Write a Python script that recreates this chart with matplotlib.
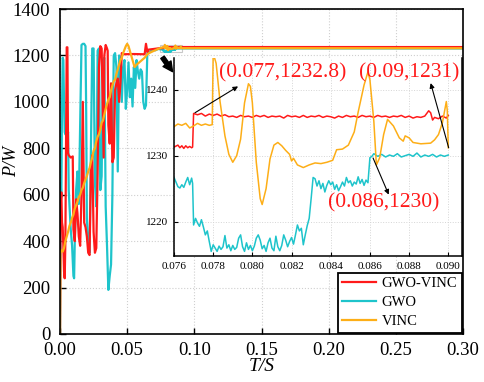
import matplotlib
matplotlib.use('Agg')
import matplotlib.pyplot as plt
import numpy as np
from matplotlib.patches import Rectangle

plt.rcParams['font.family'] = ['Liberation Serif', 'DejaVu Serif']

# --- start-up transient ---
red_t0 = [0.0, 0.0005, 0.001, 0.0015, 0.002, 0.0025, 0.003, 0.0035, 0.004, 0.0045, 0.005, 0.0055,
          0.006, 0.0065, 0.008, 0.0095, 0.010, 0.011, 0.012, 0.013, 0.014, 0.015, 0.016, 0.017,
          0.018, 0.019, 0.020, 0.021, 0.022, 0.023, 0.024, 0.025, 0.026, 0.027, 0.028, 0.029,
          0.030, 0.031, 0.032, 0.0325, 0.033, 0.034, 0.035, 0.0355, 0.036, 0.037, 0.038, 0.039,
          0.040, 0.041, 0.042, 0.043, 0.044, 0.045, 0.046, 0.047, 0.055, 0.063, 0.064, 0.065,
          0.066, 0.070, 0.074]
red_p0 = [0, 560, 610, 480, 460, 380, 270, 240, 400, 820, 1235, 1235,
          780, 770, 760, 765, 450, 400, 580, 520, 420, 380, 600, 1000,
          480, 460, 420, 350, 340, 700, 770, 440, 350, 370, 690, 1150,
          1240, 1230, 900, 760, 1200, 1245, 1230, 1220, 900, 820, 1080, 740,
          760, 1050, 1080, 1100, 1000, 1080, 1210, 1205, 1206, 1205, 1250, 1215,
          1225, 1228, 1231]

cyan_t0 = [0.0, 0.0005, 0.001, 0.0015, 0.002, 0.0025, 0.003, 0.0035, 0.004, 0.005, 0.0055, 0.006,
           0.0065, 0.007, 0.008, 0.009, 0.010, 0.0105, 0.011, 0.012, 0.013, 0.014, 0.015, 0.016,
           0.017, 0.018, 0.019, 0.0195, 0.020, 0.021, 0.022, 0.023, 0.024, 0.025, 0.026, 0.027,
           0.028, 0.029, 0.030, 0.031, 0.032, 0.033, 0.034, 0.035, 0.036, 0.037, 0.038, 0.039,
           0.040, 0.041, 0.042, 0.043, 0.044, 0.045, 0.046, 0.047, 0.048, 0.049, 0.050, 0.051,
           0.052, 0.053, 0.054, 0.055, 0.056, 0.057, 0.058, 0.059, 0.060, 0.061, 0.062, 0.063,
           0.064, 0.0645, 0.065, 0.067, 0.069, 0.071, 0.073, 0.075]
cyan_p0 = [0, 650, 590, 980, 1190, 1180, 1000, 870, 860, 880, 850, 870,
           620, 560, 450, 380, 250, 240, 400, 620, 700, 560, 900, 1245,
           1250, 1250, 1240, 950, 500, 380, 350, 800, 1230, 1230, 650, 550,
           1220, 1230, 620, 680, 1180, 1190, 550, 380, 190, 250, 300, 600,
           1200, 1210, 1150, 700, 1200, 1180, 1000, 1150, 1180, 970, 1050, 1170,
           1020, 1100, 980, 1150, 1060, 1180, 1130, 1100, 1140, 1130, 1000, 970,
           985, 1100, 1210, 1215, 1225, 1222, 1228, 1226]

orange_t0 = [0.0, 0.0003, 0.001, 0.002, 0.003, 0.004, 0.005, 0.006, 0.007, 0.008, 0.009, 0.010,
             0.011, 0.012, 0.013, 0.014, 0.015, 0.016, 0.017, 0.018, 0.019, 0.020, 0.021, 0.022,
             0.023, 0.024, 0.025, 0.026, 0.027, 0.028, 0.029, 0.030, 0.031, 0.032, 0.033, 0.034,
             0.035, 0.036, 0.037, 0.038, 0.039, 0.040, 0.041, 0.042, 0.043, 0.044, 0.045, 0.046,
             0.047, 0.048, 0.049, 0.050, 0.051, 0.052, 0.054, 0.0555, 0.057, 0.059, 0.061, 0.063,
             0.065, 0.067, 0.070, 0.073]
orange_p0 = [0, 350, 360, 355, 370, 400, 420, 440, 465, 480, 500, 515,
             540, 555, 570, 590, 600, 620, 630, 650, 665, 680, 700, 715,
             740, 760, 790, 800, 830, 850, 860, 880, 910, 920, 945, 970,
             990, 1010, 1020, 1050, 1070, 1090, 1095, 1120, 1140, 1160, 1180, 1190,
             1210, 1225, 1240, 1250, 1240, 1220, 1180, 1150, 1160, 1170, 1180, 1190,
             1205, 1212, 1220, 1228]

# --- zoomed window 0.076 - 0.090 ---
red_t1 = [0.0760, 0.0762, 0.0763, 0.0764, 0.0765, 0.0766, 0.0767, 0.0768, 0.0769, 0.07695,
          0.0770, 0.0772, 0.0774, 0.0776, 0.0778, 0.0780, 0.0782, 0.0784, 0.0786, 0.0788,
          0.0790, 0.0792, 0.0794, 0.0796, 0.0798, 0.0800, 0.0802, 0.0804, 0.0806, 0.0808,
          0.0810, 0.0812, 0.0814, 0.0816, 0.0818, 0.0820, 0.0822, 0.0824, 0.0826, 0.0828,
          0.0830, 0.0832, 0.0834, 0.0836, 0.0838, 0.0840, 0.0842, 0.0844, 0.0846, 0.0848,
          0.0850, 0.0852, 0.0854, 0.0856, 0.0858, 0.0860, 0.0862, 0.0864, 0.0866, 0.0868,
          0.0870, 0.0872, 0.0874, 0.0876, 0.0878, 0.0880, 0.0882, 0.0884, 0.0886, 0.0888,
          0.0890, 0.0891, 0.0892, 0.0893, 0.0895, 0.0897, 0.0899, 0.0900]
red_p1 = [1231.3, 1231.6, 1231.2, 1231.5, 1231.1, 1231.5, 1231.2, 1231.4, 1231.2, 1231.3,
          1236.4, 1236.2, 1236.4, 1236.0, 1236.3, 1236.1, 1236.3, 1236.0, 1236.2, 1235.9,
          1236.0, 1235.8, 1236.1, 1235.9, 1236.0, 1235.8, 1236.1, 1235.9, 1236.1, 1235.8,
          1236.0, 1235.9, 1236.0, 1235.7, 1236.1, 1235.9, 1236.0, 1235.8, 1236.1, 1235.8,
          1236.0, 1235.9, 1236.1, 1235.8, 1236.0, 1235.9, 1235.7, 1236.0, 1235.8, 1236.1,
          1235.9, 1236.0, 1235.8, 1236.1, 1235.9, 1236.0, 1235.8, 1236.1, 1235.9, 1236.0,
          1235.8, 1236.0, 1235.9, 1236.1, 1235.8, 1236.0, 1235.7, 1235.9, 1235.8, 1236.0,
          1236.8, 1236.5, 1235.4, 1235.8, 1235.6, 1236.0, 1235.7, 1236.1]

orange_t1 = [0.0760, 0.0762, 0.0764, 0.0766, 0.0768, 0.0770, 0.0772, 0.0774, 0.0776, 0.0778,
             0.07795, 0.0780, 0.07815, 0.07835, 0.0786, 0.0788, 0.0790, 0.0792, 0.0794, 0.0796,
             0.0798, 0.0799, 0.0800, 0.0802, 0.0804, 0.0805, 0.0807, 0.0809, 0.0811, 0.0813,
             0.0815, 0.0817, 0.0819, 0.0820, 0.0821, 0.0823, 0.0826, 0.0829, 0.0832, 0.0835,
             0.0838, 0.0841, 0.0843, 0.0846, 0.0849, 0.0852, 0.0854, 0.0857, 0.0859, 0.0860,
             0.0862, 0.08633, 0.0865, 0.0867, 0.0869, 0.0872, 0.0875, 0.0877, 0.0878, 0.0880,
             0.0882, 0.0886, 0.0891, 0.0893, 0.0895, 0.0897, 0.0899, 0.08995, 0.0900]
orange_p1 = [1234.4, 1234.8, 1234.6, 1234.9, 1234.2, 1234.5, 1234.9, 1234.6, 1234.8, 1234.6,
             1234.7, 1245.5, 1244.0, 1238.2, 1233.0, 1230.2, 1229.0, 1230.0, 1232.5, 1238.0,
             1240.9, 1240.5, 1238.0, 1229.0, 1223.5, 1222.6, 1225.0, 1229.5, 1231.6, 1232.0,
             1231.5, 1230.8, 1230.2, 1229.2, 1229.6, 1228.6, 1228.2, 1228.6, 1228.9, 1228.8,
             1229.0, 1229.3, 1230.9, 1231.0, 1231.6, 1233.6, 1236.6, 1240.7, 1242.7, 1241.5,
             1235.2, 1228.6, 1229.7, 1233.2, 1235.5, 1234.5, 1232.7, 1232.2, 1233.0, 1232.7,
             1232.0, 1231.8, 1231.9, 1232.4, 1233.2, 1235.0, 1238.2, 1236.8, 1231.2]

cyan_t1 = [0.0760, 0.0761, 0.0762, 0.0763, 0.0764, 0.0765, 0.0766, 0.0767, 0.0768, 0.0769,
           0.07695, 0.0770, 0.0771, 0.0772, 0.0773, 0.0774, 0.0775, 0.0776, 0.0777, 0.0778,
           0.0779, 0.0780, 0.0781, 0.0782, 0.0783, 0.0784, 0.0785, 0.0786, 0.0787, 0.0788,
           0.0789, 0.0790, 0.0791, 0.0792, 0.0793, 0.0794, 0.0795, 0.0796, 0.0797, 0.0798,
           0.0799, 0.0800, 0.0801, 0.0802, 0.0803, 0.0804, 0.0805, 0.0806, 0.0807, 0.0808,
           0.0809, 0.0810, 0.0811, 0.0812, 0.0813, 0.0814, 0.0815, 0.0816, 0.0817, 0.0818,
           0.0819, 0.0820, 0.0821, 0.0822, 0.0823, 0.0824, 0.0825, 0.0826, 0.0827, 0.0828,
           0.0829, 0.0830, 0.0831, 0.0832, 0.0833, 0.0834, 0.0835, 0.0836, 0.0837, 0.0838,
           0.0839, 0.0840, 0.0841, 0.0842, 0.0843, 0.0844, 0.0845, 0.0846, 0.0847, 0.0848,
           0.0849, 0.0850, 0.0851, 0.0852, 0.0853, 0.0854, 0.0855, 0.0856, 0.0857, 0.0858,
           0.0859, 0.0860, 0.0861, 0.0862, 0.0864, 0.0866, 0.0868, 0.0870, 0.0872, 0.0874,
           0.0876, 0.0878, 0.0880, 0.0882, 0.0884, 0.0886, 0.0888, 0.0890, 0.0892, 0.0894,
           0.0896, 0.0898, 0.0900]
cyan_p1 = [1226.7, 1226.0, 1225.3, 1225.1, 1225.6, 1225.2, 1226.0, 1226.7, 1225.6, 1226.6,
           1225.8, 1219.5, 1220.5, 1219.8, 1219.3, 1220.3, 1219.2, 1218.0, 1218.6, 1217.0,
           1215.5, 1216.5, 1216.0, 1215.5, 1216.3, 1215.8, 1216.2, 1217.9, 1216.0, 1216.5,
           1215.6, 1216.4, 1215.8, 1216.1, 1217.5, 1218.0, 1216.2, 1215.5, 1216.8, 1215.8,
           1216.4, 1215.6, 1216.3, 1217.5, 1218.0, 1217.2, 1215.9, 1216.4, 1215.5, 1216.8,
           1217.5, 1216.0, 1215.6, 1217.8, 1216.2, 1215.6, 1216.4, 1218.0, 1217.2, 1216.2,
           1217.0, 1217.6, 1216.6, 1218.0, 1219.5, 1218.6, 1219.0, 1216.5, 1218.0, 1219.4,
           1220.5, 1223.5, 1226.7, 1226.5, 1225.4, 1226.2, 1225.0, 1225.8, 1224.5, 1225.5,
           1226.2, 1225.6, 1226.0, 1224.9, 1225.6, 1224.7, 1225.3, 1226.0, 1225.4, 1226.7,
           1225.9, 1226.2, 1225.4, 1226.0, 1225.7, 1226.8, 1225.8, 1226.4, 1225.5, 1226.3,
           1225.9, 1229.7, 1229.9, 1230.3, 1229.9, 1230.2, 1229.8, 1230.1, 1229.9, 1230.3,
           1229.8, 1230.0, 1230.2, 1229.9, 1230.4, 1229.8, 1230.1, 1229.9, 1230.2, 1229.8,
           1230.1, 1229.9, 1230.1]

# steady state to the end of the run
red_tail = 1236.0
cyan_tail = 1230.0
orange_tail = 1231.0
t_end = 0.30

red_t = red_t0 + red_t1 + [t_end]
red_p = red_p0 + red_p1 + [red_tail]
cyan_t = cyan_t0 + cyan_t1 + [t_end]
cyan_p = cyan_p0 + cyan_p1 + [cyan_tail]
orange_t = orange_t0 + orange_t1 + [t_end]
orange_p = orange_p0 + orange_p1 + [orange_tail]

labels = ['GWO-VINC', 'GWO', 'VINC']
c_red, c_cyan, c_orange = '#FF1A1A', '#1EC4CB', '#FDAE17'

fig = plt.figure(figsize=(4.84, 3.82), dpi=100)
ax = fig.add_axes([60 / 484, 48 / 382, 403 / 484, 325 / 382])

l_cyan, = ax.plot(cyan_t, cyan_p, color=c_cyan, lw=1.6)
l_red, = ax.plot(red_t, red_p, color=c_red, lw=1.6)
l_orange, = ax.plot(orange_t, orange_p, color=c_orange, lw=1.6)

ax.set_xlim(0, 0.30)
ax.set_ylim(0, 1400)
ax.set_xticks(np.arange(0, 0.301, 0.05))
ax.set_yticks(np.arange(0, 1401, 200))
ax.xaxis.set_major_formatter(plt.FormatStrFormatter('%.2f'))
ax.tick_params(direction='in', labelsize=13.5, length=4, width=1.0, pad=6)
ax.tick_params(axis='y', pad=7)
ax.grid(True, linestyle=':', color='#cfcfcf', lw=0.8)
for s in ax.spines.values():
    s.set_linewidth(1.2)
ax.set_xlabel('T/S', fontsize=14, fontstyle='italic', labelpad=-1)
ax.set_ylabel('P/W', fontsize=13, fontstyle='italic')
ax.yaxis.set_label_coords(-0.098, 0.532)

# small marker of the zoomed window and the pointer into the inset
ax.add_patch(Rectangle((0.0745, 1214), 0.0162, 32, fill=False, edgecolor='#c8c8c8', lw=0.8))
ax.annotate('', xy=(0.0838, 1130), xytext=(0.0763, 1192),
            arrowprops=dict(arrowstyle='simple,head_width=0.7,head_length=0.7,tail_width=0.3',
                            color='black', shrinkA=0, shrinkB=0))

leg = ax.legend([l_red, l_cyan, l_orange], labels, loc='lower right', fontsize=10.5,
                frameon=True, fancybox=False, framealpha=1, edgecolor='black',
                borderaxespad=0.1, handlelength=2.3, labelspacing=0.4, borderpad=0.3,
                handletextpad=0.4)
leg.get_frame().set_linewidth(1.3)

# inset
axin = fig.add_axes([174 / 484, 126 / 382, 288 / 484, 198 / 382])
axin.plot(cyan_t1, cyan_p1, color=c_cyan, lw=1.1)
axin.plot(red_t1, red_p1, color=c_red, lw=1.1)
axin.plot(orange_t1, orange_p1, color=c_orange, lw=1.1)
axin.set_xlim(0.076, 0.0907)
axin.set_ylim(1214.8, 1244.8)
axin.set_xticks(np.arange(0.076, 0.0901, 0.002))
axin.set_yticks([1220, 1230, 1240])
axin.xaxis.set_major_formatter(plt.FormatStrFormatter('%.3f'))
axin.tick_params(direction='in', labelsize=8, length=3, width=0.8, pad=4)
axin.grid(True, linestyle=':', color='#d5d5d5', lw=0.7)
axin.spines['top'].set_visible(False)
for s in ['left', 'right', 'bottom']:
    axin.spines[s].set_linewidth(1.1)

txt = dict(color='#FF1A1A', fontsize=15.5, va='center', ha='left')
axin.text(0.0783, 1242.6, '(0.077,1232.8)', **txt)
axin.text(0.08546, 1242.6, '(0.09,1231)', **txt)
axin.text(0.08388, 1222.9, '(0.086,1230)', **txt)

arr = dict(arrowstyle='-|>', color='black', lw=0.8, mutation_scale=7, shrinkA=0, shrinkB=0)
axin.annotate('', xy=(0.07927, 1240.5), xytext=(0.07707, 1236.5), arrowprops=arr)
axin.annotate('', xy=(0.08910, 1241.0), xytext=(0.09002, 1231.2), arrowprops=arr)
axin.annotate('', xy=(0.08696, 1224.1), xytext=(0.08616, 1229.65), arrowprops=arr)

fig.savefig('out.png', dpi=100)
